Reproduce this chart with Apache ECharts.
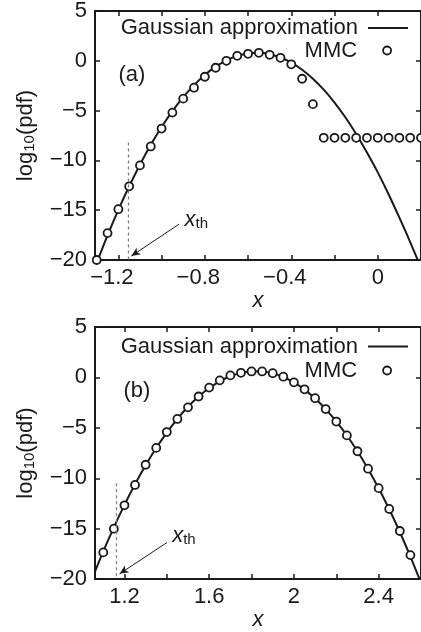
<!DOCTYPE html>
<html><head><meta charset="utf-8">
<script src="https://cdn.jsdelivr.net/npm/echarts@6/dist/echarts.min.js"></script>
<style>html,body{margin:0;padding:0;background:#fff}#c{width:421px;height:632px}</style>
</head><body><div id="c"></div>
<script>
// ---- Panel (a) data ----
const xA_gauss = [-1.30,-1.25,-1.20,-1.15,-1.10,-1.05,-1.00,-0.95,-0.90,-0.85,-0.80,-0.75,-0.70,-0.65,-0.60,-0.55,-0.50,-0.45,-0.40,-0.35,-0.30,-0.25,-0.20,-0.15,-0.10,-0.05,0.00,0.05,0.10,0.15,0.20];
const yA_gauss = [-20.28,-17.53,-14.97,-12.60,-10.43,-8.44,-6.65,-5.06,-3.65,-2.44,-1.42,-0.59,0.05,0.49,0.74,0.80,0.66,0.33,-0.19,-0.90,-1.80,-2.90,-4.19,-5.67,-7.35,-9.21,-11.20,-13.40,-15.75,-18.20,-20.80];
const xA_mmc = [-1.30,-1.25,-1.20,-1.15,-1.10,-1.05,-1.00,-0.95,-0.90,-0.85,-0.80,-0.75,-0.70,-0.65,-0.60,-0.55,-0.50,-0.45,-0.40,-0.35,-0.30,-0.25,-0.20,-0.15,-0.10,-0.05,0.00,0.05,0.10,0.15,0.20];
const yA_mmc = [-20.0,-17.3,-14.9,-12.6,-10.5,-8.6,-6.8,-5.2,-3.8,-2.7,-1.6,-0.7,0.0,0.5,0.7,0.8,0.6,0.3,-0.35,-1.8,-4.35,-7.73,-7.73,-7.73,-7.73,-7.73,-7.73,-7.73,-7.73,-7.73,-7.73];
const xA_ticks = [-1.2,-1.0,-0.8,-0.6,-0.4,-0.2,0,0.2];
const xA_labels = [-1.2,-0.8,-0.4,0];
const xA_th = -1.155;

// ---- Panel (b) data ----
const xB_gauss = [1.05,1.10,1.15,1.20,1.25,1.30,1.35,1.40,1.45,1.50,1.55,1.60,1.65,1.70,1.75,1.80,1.85,1.90,1.95,2.00,2.05,2.10,2.15,2.20,2.25,2.30,2.35,2.40,2.45,2.50,2.55,2.60];
const yB_gauss = [-19.84,-17.26,-14.87,-12.64,-10.59,-8.71,-7.00,-5.47,-4.10,-2.91,-1.90,-1.05,-0.38,0.12,0.45,0.61,0.59,0.40,0.04,-0.50,-1.21,-2.08,-3.14,-4.36,-5.76,-7.33,-9.07,-10.99,-13.07,-15.33,-17.77,-20.37];
const xB_mmc = [1.10,1.15,1.20,1.25,1.30,1.35,1.40,1.45,1.50,1.55,1.60,1.65,1.70,1.75,1.80,1.85,1.90,1.95,2.00,2.05,2.10,2.15,2.20,2.25,2.30,2.35,2.40,2.45,2.50,2.55];
const yB_mmc = [-17.35,-15.0,-12.68,-10.66,-8.66,-6.99,-5.42,-4.12,-2.97,-1.89,-1.01,-0.29,0.20,0.46,0.59,0.59,0.42,0.07,-0.49,-1.18,-2.06,-3.14,-4.38,-5.75,-7.32,-9.05,-10.98,-13.04,-15.23,-17.62];
const xB_ticks = [1.2,1.4,1.6,1.8,2.0,2.2,2.4,2.6];
const xB_labels = [1.2,1.6,2.0,2.4];
const xB_th = 1.163;

const yTicks = [-20,-15,-10,-5,0,5];

const FF = "'Liberation Sans', Arial, Helvetica, sans-serif";
const INK = '#1a1a1a';
const zip = (a,b) => a.map((v,i)=>[v,b[i]]);

function xfmt(v){
  const s = String(+(+v).toFixed(2));
  return s.charAt(0)==='-' ? '{m|\u2212'+s.slice(1)+'}' : '{p|'+s+'}';
}
function xBottom(gi,min,max,ticks,labels){
  return {type:'value', gridIndex:gi, min:min, max:max, position:'bottom',
    axisLine:{show:true,onZero:false,lineStyle:{color:INK,width:2}},
    axisTick:{show:true,inside:true,length:5,customValues:ticks,lineStyle:{color:INK,width:1.5}},
    axisLabel:{show:true,customValues:labels,margin:7,formatter:xfmt,
      rich:{m:{fontSize:22,fontFamily:FF,color:INK,padding:[0,13,0,0]},p:{fontSize:22,fontFamily:FF,color:INK}}},
    splitLine:{show:false},
    name:'x', nameLocation:'middle', nameGap:27,
    nameTextStyle:{fontSize:22,fontFamily:FF,fontStyle:'italic',color:INK}};
}
function xTop(gi,min,max,ticks){
  return {type:'value', gridIndex:gi, min:min, max:max, position:'top',
    axisLine:{show:true,onZero:false,lineStyle:{color:INK,width:2}},
    axisTick:{show:true,inside:true,length:5,customValues:ticks,lineStyle:{color:INK,width:1.5}},
    axisLabel:{show:false}, splitLine:{show:false}};
}
function yLeft(gi){
  return {type:'value', gridIndex:gi, min:-20, max:5, position:'left',
    axisLine:{show:true,onZero:false,lineStyle:{color:INK,width:2}},
    axisTick:{show:true,inside:true,length:5,customValues:yTicks,lineStyle:{color:INK,width:1.5}},
    axisLabel:{show:true,customValues:yTicks,margin:8,fontSize:22,fontFamily:FF,color:INK,
      formatter:v=>String(v).replace('-','\u2212')},
    splitLine:{show:false},
    name:'{n|log}{s|10}{n|(pdf)}', nameLocation:'middle', nameGap:58,
    nameTextStyle:{rich:{n:{fontSize:22,fontFamily:FF,color:INK,lineHeight:22},
                         s:{fontSize:15,fontFamily:FF,color:INK,lineHeight:8,verticalAlign:'bottom'}}}};
}
function yRight(gi){
  return {type:'value', gridIndex:gi, min:-20, max:5, position:'right',
    axisLine:{show:true,onZero:false,lineStyle:{color:INK,width:2}},
    axisTick:{show:true,inside:true,length:5,customValues:yTicks,lineStyle:{color:INK,width:1.5}},
    axisLabel:{show:false}, splitLine:{show:false}};
}
const thRich = {i:{fontSize:22,fontFamily:FF,fontStyle:'italic',color:INK,lineHeight:22},
                s:{fontSize:15,fontFamily:FF,color:INK,lineHeight:8,verticalAlign:'bottom'}};

function gaussSeries(xi,yi,xs,ys,thx,thTop,arrowFrom,arrowTo,textAt){
  return {type:'line', name:'Gaussian approximation', xAxisIndex:xi, yAxisIndex:yi,
    data:zip(xs,ys), smooth:0.3, symbol:'none', showSymbol:false,
    lineStyle:{color:INK,width:2}, itemStyle:{color:INK}, z:2,
    markLine:{silent:true, animation:false, symbol:['none','arrow'], symbolSize:[6,9],
      label:{show:false},
      data:[
        [{coord:[thx, thTop], symbol:'none', lineStyle:{type:[3,3],color:'#808080',width:1.3}},
         {coord:[thx,-20], symbol:'none'}],
        [{coord:arrowFrom, symbol:'none', lineStyle:{type:'solid',color:INK,width:1}},
         {coord:arrowTo, symbol:'arrow', symbolSize:[6,9], itemStyle:{color:INK}}]
      ]},
    markPoint:{silent:true, animation:false, symbol:'circle', symbolSize:1,
      itemStyle:{color:'rgba(0,0,0,0)'},
      label:{show:true, position:'right', distance:0, formatter:'{i|x}{s|th}', rich:thRich},
      data:[{coord:textAt}]}
  };
}
function mmcSeries(xi,yi,xs,ys){
  return {type:'scatter', name:'MMC', xAxisIndex:xi, yAxisIndex:yi, data:zip(xs,ys),
    symbol:'circle', symbolSize:8, clip:false, z:3,
    itemStyle:{color:'#ffffff', borderColor:INK, borderWidth:1.8, opacity:1}};
}
function legLine(top){
  return {data:[{name:'Gaussian approximation', icon:'rect', itemStyle:{color:INK}}],
    right:13, top:top, align:'right', orient:'horizontal', padding:0,
    itemWidth:40, itemHeight:2, selectedMode:false,
    textStyle:{fontSize:22,fontFamily:FF,color:INK,padding:[0,5,0,0]}};
}
function legDot(top){
  return {data:[{name:'MMC', icon:'circle', itemStyle:{color:'#ffffff',borderColor:INK,borderWidth:1.8,opacity:1}}],
    right:29, top:top, align:'right', orient:'horizontal', padding:0,
    itemWidth:8, itemHeight:8, selectedMode:false,
    textStyle:{fontSize:22,fontFamily:FF,color:INK,padding:[0,21,0,0]}};
}

const option = {
  animation:false,
  backgroundColor:'#fff',
  title:[
    {text:'(a)', left:118.5, top:64, padding:0, textStyle:{fontSize:22,fontWeight:'normal',fontFamily:FF,color:INK}},
    {text:'(b)', left:123.5, top:379.5, padding:0, textStyle:{fontSize:22,fontWeight:'normal',fontFamily:FF,color:INK}}
  ],
  legend:[ legLine(17), legDot(39.5), legLine(335.5), legDot(359.5) ],
  grid:[
    {left:95, top:8, width:329.6, height:252},
    {left:95, top:327, width:332, height:255}
  ],
  xAxis:[
    xBottom(0,-1.308,0.2,xA_ticks,xA_labels),
    xTop(0,-1.308,0.2,xA_ticks),
    xBottom(1,1.061,2.6,xB_ticks,xB_labels),
    xTop(1,1.061,2.6,xB_ticks)
  ],
  yAxis:[yLeft(0), yRight(0), yLeft(1), yRight(1)],
  series:[
    gaussSeries(0,0,xA_gauss,yA_gauss,xA_th,-8.2,[-0.919,-16.4],[-1.140,-19.6],[-0.896,-15.97]),
    mmcSeries(0,0,xA_mmc,yA_mmc),
    gaussSeries(2,2,xB_gauss,yB_gauss,xB_th,-10.5,[1.401,-16.37],[1.177,-19.48],[1.423,-15.74]),
    mmcSeries(2,2,xB_mmc,yB_mmc)
  ]
};
const chart = echarts.init(document.getElementById('c'), null, {renderer:'canvas'});
chart.setOption(option);
</script></body></html>
